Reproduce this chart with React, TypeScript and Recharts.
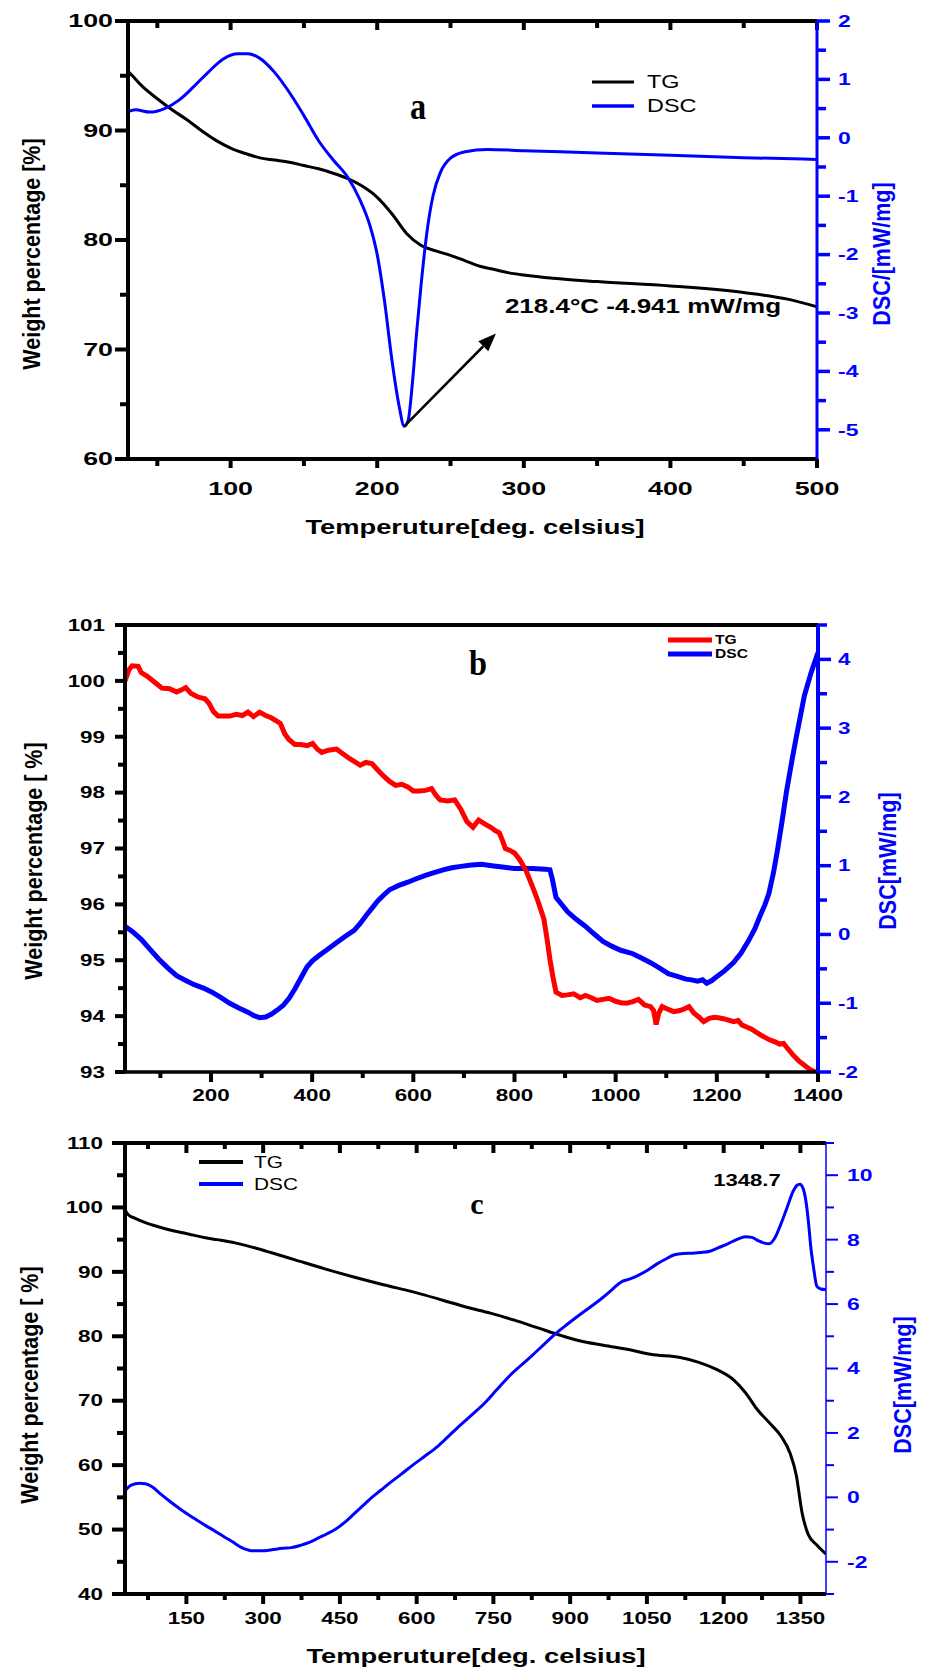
import React from 'react';
import { LineChart, Line, XAxis, YAxis, ReferenceLine } from 'recharts';

const FONT = '"Liberation Sans", Arial, Helvetica, sans-serif';
const SERIF = '"Liberation Serif", "Times New Roman", serif';
const BLUE = '#0000ff';
const RED = '#ff0000';

// ---------- Panel a (30–500 °C) ----------
const aTempMajor = [100, 200, 300, 400, 500];
const aTempMinor = [50, 150, 250, 350, 450];
const aWeightMajor = [60, 70, 80, 90, 100];
const aWeightMinor = [65, 75, 85, 95];
const aDscMajor = [-5, -4, -3, -2, -1, 0, 1, 2];
const aDscMinor = [-4.5, -3.5, -2.5, -1.5, -0.5, 0.5, 1.5];
const aTG: number[][] = [
  [30, 95.4], [33, 95.0], [40, 94.0], [50, 92.9], [60, 91.9], [70, 91.0], [80, 90.0], [90, 89.1],
  [100, 88.4], [110, 87.9], [120, 87.5], [130, 87.3], [140, 87.1], [150, 86.8], [160, 86.5],
  [170, 86.1], [180, 85.6], [190, 84.9], [200, 83.9], [210, 82.4], [220, 80.6], [230, 79.5],
  [240, 79.0], [250, 78.6], [260, 78.1], [270, 77.6], [280, 77.3], [290, 77.0], [300, 76.8],
  [320, 76.5], [350, 76.2], [400, 75.8], [450, 75.2], [480, 74.6], [500, 73.9],
];
const aDSC: number[][] = [
  [30, 0.45], [35, 0.48], [45, 0.44], [55, 0.5], [65, 0.65], [75, 0.88], [85, 1.13], [95, 1.35],
  [105, 1.44], [112, 1.44], [120, 1.36], [130, 1.12], [140, 0.78], [150, 0.38], [160, -0.05],
  [170, -0.38], [180, -0.68], [188, -1.05], [195, -1.5], [200, -2.0], [205, -2.8], [210, -3.8],
  [215, -4.6], [218.4, -4.94], [221, -4.85], [224, -4.2], [227, -3.3], [230, -2.5], [234, -1.6],
  [238, -1.0], [243, -0.6], [250, -0.35], [260, -0.24], [275, -0.2], [300, -0.22], [350, -0.26],
  [400, -0.3], [450, -0.34], [500, -0.37],
];
const aPeak = { t: 218.4, dsc: -4.941 };
const aArrowEnd = { t: 281, dsc: -3.35 };

// ---------- Panel b (30–1400 °C) ----------
const bTempMajor = [200, 400, 600, 800, 1000, 1200, 1400];
const bTempMinor = [100, 300, 500, 700, 900, 1100, 1300];
const bWeightMajor = [93, 94, 95, 96, 97, 98, 99, 100, 101];
const bWeightMinor = [93.5, 94.5, 95.5, 96.5, 97.5, 98.5, 99.5, 100.5];
const bDscMajor = [-2, -1, 0, 1, 2, 3, 4];
const bDscMinor = [-1.5, -0.5, 0.5, 1.5, 2.5, 3.5, 4.5];
const bTG: number[][] = [
  [30, 100.0], [38, 100.2], [44, 100.27], [56, 100.26], [62, 100.15], [74, 100.08], [88, 99.98],
  [103, 99.87], [118, 99.86], [132, 99.8], [142, 99.84], [150, 99.88], [160, 99.78], [172, 99.72],
  [179, 99.7], [188, 99.68], [196, 99.6], [205, 99.45], [214, 99.37], [237, 99.37], [250, 99.4],
  [262, 99.38], [273, 99.44], [284, 99.36], [296, 99.44], [308, 99.38], [319, 99.34], [330, 99.28],
  [337, 99.24], [346, 99.05], [354, 98.95], [366, 98.86], [378, 98.86], [390, 98.84], [401, 98.88],
  [410, 98.78], [419, 98.72], [432, 98.76], [448, 98.78], [460, 98.7], [472, 98.62], [483, 98.56],
  [495, 98.49], [506, 98.54], [518, 98.52], [530, 98.4], [542, 98.29], [553, 98.2], [565, 98.13],
  [577, 98.15], [589, 98.1], [600, 98.03], [612, 98.03], [624, 98.04], [636, 98.07], [645, 97.95],
  [653, 97.87], [668, 97.85], [682, 97.87], [694, 97.7], [706, 97.48], [718, 97.38], [729, 97.51],
  [741, 97.44], [753, 97.38], [762, 97.32], [770, 97.28], [776, 97.15], [782, 97.0], [790, 96.97],
  [800, 96.92], [811, 96.79], [823, 96.6], [835, 96.33], [846, 96.07], [858, 95.74], [864, 95.4],
  [870, 95.02], [876, 94.7], [882, 94.43], [894, 94.37], [905, 94.38], [917, 94.4], [930, 94.33],
  [940, 94.37], [952, 94.33], [963, 94.28], [975, 94.3], [987, 94.32], [999, 94.27], [1010, 94.24],
  [1022, 94.23], [1034, 94.26], [1045, 94.3], [1057, 94.2], [1069, 94.17], [1075, 94.1], [1080, 93.85],
  [1085, 94.05], [1092, 94.17], [1104, 94.12], [1115, 94.08], [1127, 94.1], [1136, 94.13], [1145, 94.17],
  [1155, 94.05], [1165, 93.98], [1174, 93.9], [1185, 93.96], [1195, 93.98], [1203, 93.97], [1215, 93.95],
  [1233, 93.9], [1242, 93.92], [1250, 93.84], [1260, 93.8], [1268, 93.77], [1280, 93.7], [1291, 93.64],
  [1303, 93.58], [1315, 93.54], [1324, 93.5], [1332, 93.51], [1340, 93.42], [1350, 93.31], [1362, 93.2],
  [1373, 93.12], [1385, 93.04], [1395, 93.0],
];
const bDSC: number[][] = [
  [30, 0.12], [45, 0.04], [62, -0.07], [80, -0.22], [97, -0.36], [115, -0.49], [132, -0.6], [150, -0.67],
  [167, -0.73], [185, -0.78], [202, -0.84], [220, -0.92], [237, -1.0], [255, -1.07], [273, -1.13],
  [285, -1.18], [296, -1.21], [308, -1.2], [319, -1.16], [331, -1.1], [343, -1.03], [355, -0.92],
  [366, -0.79], [378, -0.63], [390, -0.47], [401, -0.38], [413, -0.31], [430, -0.22], [448, -0.12],
  [465, -0.03], [483, 0.06], [495, 0.16], [507, 0.28], [518, 0.38], [530, 0.49], [541, 0.57], [553, 0.65],
  [570, 0.71], [589, 0.76], [606, 0.81], [624, 0.86], [641, 0.9], [659, 0.94], [676, 0.97], [694, 0.99],
  [715, 1.01], [735, 1.02], [755, 1.0], [776, 0.98], [800, 0.96], [835, 0.96], [860, 0.95], [870, 0.94],
  [875, 0.8], [882, 0.54], [893, 0.44], [905, 0.33], [922, 0.22], [940, 0.12], [957, 0.01], [975, -0.1],
  [992, -0.17], [1010, -0.23], [1034, -0.28], [1050, -0.34], [1069, -0.41], [1087, -0.49], [1104, -0.57],
  [1122, -0.61], [1139, -0.65], [1150, -0.66], [1162, -0.68], [1172, -0.66], [1180, -0.71], [1190, -0.67],
  [1197, -0.63], [1215, -0.53], [1233, -0.41], [1248, -0.27], [1262, -0.1], [1275, 0.08], [1286, 0.28],
  [1295, 0.43], [1303, 0.6], [1312, 0.9], [1320, 1.23], [1329, 1.65], [1338, 2.09], [1347, 2.47],
  [1356, 2.83], [1365, 3.17], [1373, 3.47], [1386, 3.8], [1400, 4.1],
];

// ---------- Panel c (30–1400 °C) ----------
const cTempMajor = [150, 300, 450, 600, 750, 900, 1050, 1200, 1350];
const cTempMinor = [75, 225, 375, 525, 675, 825, 975, 1125, 1275];
const cWeightMajor = [40, 50, 60, 70, 80, 90, 100, 110];
const cWeightMinor = [45, 55, 65, 75, 85, 95, 105];
const cDscMajor = [-2, 0, 2, 4, 6, 8, 10];
const cDscMinor = [-3, -1, 1, 3, 5, 7, 9, 11];
const cTG: number[][] = [
  [30, 99.6], [36, 98.9], [50, 98.3], [71, 97.6], [95, 97.0], [118, 96.5], [140, 96.1], [164, 95.7],
  [187, 95.3], [210, 95.0], [245, 94.5], [280, 93.8], [315, 93.0], [361, 91.9], [419, 90.5], [477, 89.2],
  [535, 88.0], [593, 86.9], [651, 85.6], [698, 84.5], [744, 83.6], [791, 82.5], [837, 81.3], [883, 80.1],
  [918, 79.3], [965, 78.6], [1023, 77.8], [1057, 77.2], [1115, 76.7], [1150, 76.0], [1185, 74.9],
  [1220, 73.2], [1243, 71.2], [1266, 68.6], [1289, 66.6], [1313, 64.4], [1330, 61.8], [1342, 58.4],
  [1353, 52.7], [1365, 49.3], [1382, 47.6], [1400, 46.2],
];
const cDSC: number[][] = [
  [30, 0.2], [42, 0.38], [59, 0.44], [70, 0.42], [83, 0.33], [100, 0.1], [118, -0.13], [135, -0.33],
  [152, -0.52], [170, -0.7], [187, -0.87], [205, -1.04], [222, -1.21], [240, -1.38], [257, -1.55],
  [270, -1.63], [280, -1.66], [303, -1.66], [320, -1.62], [338, -1.58], [355, -1.56], [373, -1.49],
  [390, -1.4], [408, -1.26], [425, -1.13], [442, -0.98], [460, -0.77], [477, -0.52], [495, -0.26],
  [512, -0.01], [530, 0.22], [547, 0.44], [570, 0.72], [593, 1.01], [617, 1.29], [640, 1.57], [663, 1.91],
  [686, 2.25], [710, 2.59], [733, 2.93], [756, 3.33], [779, 3.73], [802, 4.07], [826, 4.41], [849, 4.75],
  [872, 5.09], [895, 5.38], [918, 5.66], [942, 5.94], [965, 6.22], [982, 6.45], [999, 6.68], [1017, 6.78],
  [1034, 6.9], [1052, 7.06], [1069, 7.24], [1087, 7.4], [1104, 7.53], [1122, 7.57], [1139, 7.58],
  [1156, 7.6], [1173, 7.64], [1190, 7.75], [1208, 7.87], [1225, 8.0], [1243, 8.09], [1255, 8.07],
  [1266, 7.98], [1278, 7.9], [1289, 7.87], [1300, 8.05], [1312, 8.49], [1324, 9.0], [1336, 9.51],
  [1343, 9.68], [1349, 9.72], [1355, 9.6], [1361, 9.17], [1366, 8.5], [1370, 7.81], [1376, 7.1],
  [1382, 6.56], [1390, 6.47], [1400, 6.45],
];

const pts = (arr: number[][]) => arr.map(([t, v]) => ({ t, v }));
const fmt = (v: number) => String(Math.round(v * 10) / 10);

function SText(p: any) {
  const { x, y, children, size, color = '#000', weight = 'bold', anchor = 'middle', rotate = false, sx = 1.3, family = FONT } = p;
  const tf = rotate
    ? `translate(${x},${y}) scale(${sx},1) rotate(-90)`
    : `translate(${x},${y}) scale(${sx},1)`;
  return (
    <text transform={tf} x={0} y={0} fill={color} fontSize={size} fontWeight={weight}
      fontFamily={family} textAnchor={anchor} dominantBaseline="central">{children}</text>
  );
}

const lbl = (side: string, color: string, size: number, sx: number) => (p: any) => {
  const anchor = side === 'left' ? 'end' : side === 'right' ? 'start' : 'middle';
  return <SText x={p.x} y={p.y} size={size} color={color} anchor={anchor} sx={sx}>{fmt(Number(p.payload.value))}</SText>;
};

type Box = { x: number; y: number; width: number; height: number };
type MarkCfg = {
  side: 'left' | 'right' | 'bottom' | 'top'; domain: [number, number]; majors: number[]; minors: number[];
  majLen: number; minLen: number; color: string; sw: number; box: Box;
};
// tick marks along the plot edge that matches the axis
const tickMarks = (o: MarkCfg) => {
  const vb = o.box;
  const [d0, d1] = o.domain;
  const all: number[][] = [...o.majors.map((v) => [v, o.majLen]), ...o.minors.map((v) => [v, o.minLen])];
  return all.map(([v, L], i) => {
    if (o.side === 'left' || o.side === 'right') {
      const y = vb.y + ((d1 - v) / (d1 - d0)) * vb.height;
      const x0 = o.side === 'left' ? vb.x : vb.x + vb.width;
      const x1 = o.side === 'left' ? x0 - L : x0 + L;
      return <path key={o.side + i} d={`M${x0},${y}L${x1},${y}`} stroke={o.color} strokeWidth={o.sw} fill="none" />;
    }
    const x = vb.x + ((v - d0) / (d1 - d0)) * vb.width;
    const y0 = o.side === 'bottom' ? vb.y + vb.height : vb.y;
    return <path key={o.side + i} d={`M${x},${y0}L${x},${y0 + L}`} stroke={o.color} strokeWidth={o.sw} fill="none" />;
  });
};

const Arrow = (p: any) => {
  const { x1, y1, x2, y2 } = p;
  const ang = Math.atan2(y2 - y1, x2 - x1);
  const hl = 18, hw = 7;
  const bx = x2 - hl * Math.cos(ang), by = y2 - hl * Math.sin(ang);
  const px = -Math.sin(ang) * hw, py = Math.cos(ang) * hw;
  return (
    <g>
      <line x1={x1} y1={y1} x2={bx} y2={by} stroke="#000" strokeWidth={2.5} />
      <polygon points={`${x2},${y2} ${bx + px},${by + py} ${bx - px},${by - py}`} fill="#000" />
    </g>
  );
};

const noAnim = { isAnimationActive: false, dot: false, activeDot: false } as any;

type PanelCfg = {
  top: number; height: number; margin: any; plotTop: number; plotBottom: number; left: number; right: number;
  xDomain: [number, number]; xMaj: number[]; xMin: number[]; xOff: number; xMajLen: number; xMinLen: number; xAxisW: number; xSize: number; xSx: number;
  topTicks: boolean; topMaj: number; topMin: number;
  lDomain: [number, number]; lMaj: number[]; lMin: number[]; lOff: number; lMajLen: number; lMinLen: number; lSize: number;
  rDomain: [number, number]; rMaj: number[]; rMin: number[]; rOff: number; rMajLen: number; rMinLen: number; rAxisW: number; rTickW: number; rSize: number; rSx: number;
  extras: () => any; children: any;
};

function Panel(c: PanelCfg) {
  const plot: Box = { x: c.left, y: c.plotTop, width: c.right - c.left, height: c.plotBottom - c.plotTop };
  const decor = () => (
    <g>
      {tickMarks({ side: 'bottom', domain: c.xDomain, majors: c.xMaj, minors: c.xMin, majLen: c.xMajLen, minLen: c.xMinLen, color: '#000', sw: 4, box: plot })}
      {c.topTicks && tickMarks({ side: 'top', domain: c.xDomain, majors: c.xMaj, minors: c.xMin, majLen: c.topMaj, minLen: c.topMin, color: '#000', sw: 4, box: plot })}
      {tickMarks({ side: 'left', domain: c.lDomain, majors: c.lMaj, minors: c.lMin, majLen: c.lMajLen, minLen: c.lMinLen, color: '#000', sw: 4, box: plot })}
      {tickMarks({ side: 'right', domain: c.rDomain, majors: c.rMaj, minors: c.rMin, majLen: c.rMajLen, minLen: c.rMinLen, color: BLUE, sw: c.rTickW, box: plot })}
      {c.extras()}
    </g>
  );
  return (
    <div style={{ position: 'absolute', left: 0, top: c.top }}>
      <LineChart width={927} height={c.height} margin={c.margin}>
        <XAxis xAxisId="x" type="number" dataKey="t" domain={c.xDomain} allowDataOverflow ticks={c.xMaj}
          interval={0} height={30} tickSize={0} tickMargin={c.xOff} tickLine={false}
          axisLine={{ stroke: '#000', strokeWidth: c.xAxisW }} tick={lbl('bottom', '#000', c.xSize, c.xSx)}
          label={{ content: decor } as any} />
        <XAxis xAxisId="top" orientation="top" type="number" height={5} domain={c.xDomain} allowDataOverflow
          tick={false} tickLine={false} axisLine={{ stroke: '#000', strokeWidth: 4 }} />
        <YAxis yAxisId="l" type="number" domain={c.lDomain} allowDataOverflow ticks={c.lMaj} interval={0}
          width={c.left} tickSize={0} tickMargin={c.lOff} tickLine={false}
          axisLine={{ stroke: '#000', strokeWidth: 4 }} tick={lbl('left', '#000', c.lSize, c.xSx)} />
        <YAxis yAxisId="r" orientation="right" type="number" domain={c.rDomain} allowDataOverflow ticks={c.rMaj} interval={0}
          width={927 - c.right} tickSize={0} tickMargin={c.rOff} tickLine={false}
          axisLine={{ stroke: BLUE, strokeWidth: c.rAxisW }} tick={lbl('right', BLUE, c.rSize, c.rSx)} />
        {c.children}
      </LineChart>
    </div>
  );
}

function PanelA() {
  const extras = () => (
    <g>
      <SText x={475} y={527} size={21}>Temperuture[deg. celsius]</SText>
      <SText x={32} y={254} size={21.5} rotate sx={1.1}>Weight percentage [%]</SText>
      <SText x={882} y={254} size={21.5} rotate sx={1.1} color={BLUE}>DSC/[mW/mg]</SText>
      <SText x={418} y={107} size={38} family={SERIF} sx={0.85}>a</SText>
      <line x1={592} y1={82} x2={634} y2={82} stroke="#000" strokeWidth={3} />
      <SText x={647} y={82} size={18} weight="normal" anchor="start">TG</SText>
      <line x1={592} y1={106} x2={634} y2={106} stroke={BLUE} strokeWidth={3.5} />
      <SText x={647} y={106} size={18} weight="normal" anchor="start">DSC</SText>
      <SText x={643} y={306} size={20}>218.4°C -4.941 mW/mg</SText>
    </g>
  );
  return (
    <Panel top={0} height={545} margin={{ top: 16, right: 0, bottom: 56, left: 0 }} plotTop={21} plotBottom={459} left={128} right={817}
      xDomain={[30, 500]} xMaj={aTempMajor} xMin={aTempMinor} xOff={30} xMajLen={9} xMinLen={7} xAxisW={4} xSize={18.5} xSx={1.45}
      topTicks topMaj={9} topMin={7}
      lDomain={[60, 100]} lMaj={aWeightMajor} lMin={aWeightMinor} lOff={15} lMajLen={13} lMinLen={8} lSize={18.5}
      rDomain={[-5.5, 2]} rMaj={aDscMajor} rMin={aDscMinor} rOff={21} rMajLen={13} rMinLen={9} rAxisW={3} rTickW={3.5} rSize={17} rSx={1.35}
      extras={extras}>
      <Line xAxisId="x" yAxisId="l" data={pts(aTG)} dataKey="v" type="monotone" stroke="#000" strokeWidth={3} {...noAnim} />
      <Line xAxisId="x" yAxisId="r" data={pts(aDSC)} dataKey="v" type="monotone" stroke={BLUE} strokeWidth={3} {...noAnim} />
      <ReferenceLine xAxisId="x" yAxisId="r"
        segment={[{ x: aPeak.t, y: aPeak.dsc }, { x: aArrowEnd.t, y: aArrowEnd.dsc }]}
        shape={Arrow} />
    </Panel>
  );
}

function PanelB() {
  const extras = () => (
    <g>
      <SText x={34} y={316} size={21.5} rotate sx={1.1}>Weight percentage [ %]</SText>
      <SText x={888} y={316} size={21.5} rotate sx={1.1} color={BLUE}>DSC[mW/mg]</SText>
      <SText x={478} y={117} size={36} family={SERIF} sx={0.9}>b</SText>
      <line x1={668} y1={95} x2={712} y2={95} stroke={RED} strokeWidth={5} />
      <SText x={715} y={95} size={12} anchor="start">TG</SText>
      <line x1={668} y1={109} x2={712} y2={109} stroke={BLUE} strokeWidth={5} />
      <SText x={715} y={109} size={12} anchor="start">DSC</SText>
    </g>
  );
  return (
    <Panel top={545} height={560} margin={{ top: 75, right: 0, bottom: 3, left: 0 }} plotTop={80} plotBottom={527} left={125} right={818}
      xDomain={[30, 1400]} xMaj={bTempMajor} xMin={bTempMinor} xOff={23} xMajLen={10} xMinLen={6} xAxisW={3.5} xSize={16} xSx={1.4}
      topTicks={false} topMaj={0} topMin={0}
      lDomain={[93, 101]} lMaj={bWeightMajor} lMin={bWeightMinor} lOff={20} lMajLen={10} lMinLen={7} lSize={16}
      rDomain={[-2, 4.5]} rMaj={bDscMajor} rMin={bDscMinor} rOff={20} rMajLen={13} rMinLen={9} rAxisW={4} rTickW={3.5} rSize={16} rSx={1.4}
      extras={extras}>
      <Line xAxisId="x" yAxisId="r" data={pts(bDSC)} dataKey="v" type="linear" stroke={BLUE} strokeWidth={5} {...noAnim} />
      <Line xAxisId="x" yAxisId="l" data={pts(bTG)} dataKey="v" type="linear" stroke={RED} strokeWidth={5} {...noAnim} />
    </Panel>
  );
}

function PanelC() {
  const extras = () => (
    <g>
      <SText x={476} y={551} size={21}>Temperuture[deg. celsius]</SText>
      <SText x={30} y={280} size={21.5} rotate sx={1.1}>Weight percentage [ %]</SText>
      <SText x={903} y={280} size={21.5} rotate sx={1.1} color={BLUE}>DSC[mW/mg]</SText>
      <SText x={477} y={98} size={30} family={SERIF} sx={1.0}>c</SText>
      <SText x={747} y={75} size={17}>1348.7</SText>
      <line x1={199} y1={57} x2={243} y2={57} stroke="#000" strokeWidth={4} />
      <SText x={254} y={57} size={16} weight="normal" anchor="start">TG</SText>
      <line x1={199} y1={79} x2={243} y2={79} stroke={BLUE} strokeWidth={4} />
      <SText x={254} y={79} size={16} weight="normal" anchor="start">DSC</SText>
    </g>
  );
  return (
    <Panel top={1105} height={569} margin={{ top: 33, right: 0, bottom: 50, left: 0 }} plotTop={38} plotBottom={489} left={125} right={826}
      xDomain={[30, 1400]} xMaj={cTempMajor} xMin={cTempMinor} xOff={24} xMajLen={10} xMinLen={6} xAxisW={4} xSize={16} xSx={1.4}
      topTicks topMaj={10} topMin={6}
      lDomain={[40, 110]} lMaj={cWeightMajor} lMin={cWeightMinor} lOff={22} lMajLen={13} lMinLen={8} lSize={16}
      rDomain={[-3, 11]} rMaj={cDscMajor} rMin={cDscMinor} rOff={21} rMajLen={12} rMinLen={8} rAxisW={1.5} rTickW={2} rSize={17} rSx={1.35}
      extras={extras}>
      <Line xAxisId="x" yAxisId="l" data={pts(cTG)} dataKey="v" type="monotone" stroke="#000" strokeWidth={3} {...noAnim} />
      <Line xAxisId="x" yAxisId="r" data={pts(cDSC)} dataKey="v" type="monotone" stroke={BLUE} strokeWidth={3} {...noAnim} />
    </Panel>
  );
}

export default function App() {
  return (
    <div style={{ position: 'absolute', left: 0, top: 0, width: 927, height: 1674, background: '#fff' }}>
      <PanelA />
      <PanelB />
      <PanelC />
    </div>
  );
}
